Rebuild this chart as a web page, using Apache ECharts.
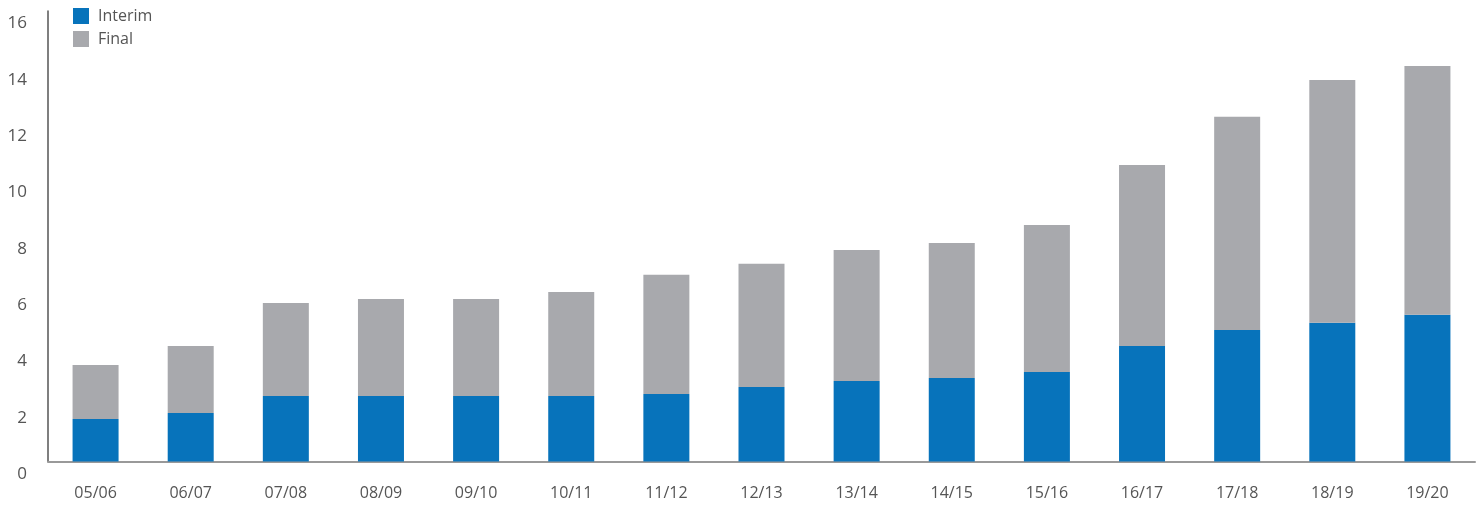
<!DOCTYPE html>
<html>
<head>
<meta charset="utf-8">
<script src="https://cdn.jsdelivr.net/npm/echarts@6/dist/echarts.min.js"></script>
<style>
html,body{margin:0;padding:0;background:#fff;}
#chart{width:1483px;height:506px;}
</style>
</head>
<body>
<div id="chart"></div>
<script>
var categories = ['05/06','06/07','07/08','08/09','09/10','10/11','11/12','12/13','13/14','14/15','15/16','16/17','17/18','18/19','19/20'];
var interim = [1.51,1.72,2.33,2.33,2.33,2.33,2.40,2.65,2.86,2.97,3.18,4.10,4.67,4.93,5.21];
var finalDiv = [1.92,2.38,3.30,3.44,3.44,3.69,4.23,4.37,4.65,4.79,5.22,6.43,7.57,8.62,8.84];
var yTicks = [0,2,4,6,8,10,12,14,16];

var font = '"Open Sans", "Noto Sans", sans-serif';
var chart = echarts.init(document.getElementById('chart'), null, {renderer:'canvas'});
chart.setOption({
  animation: false,
  backgroundColor: '#ffffff',
  textStyle: {fontFamily: font},
  legend: {
    orient: 'vertical',
    left: 68,
    top: 3,
    itemWidth: 16,
    itemHeight: 16,
    itemGap: 7,
    icon: 'rect',
    textStyle: {fontSize: 16, color: '#555555', fontFamily: font, padding: [0,0,0,4]},
    data: ['Interim','Final']
  },
  grid: {left: 48, right: 8, top: 11, bottom: 44.5, containLabel: false},
  xAxis: {
    type: 'category',
    data: categories,
    axisLine: {show: true, lineStyle: {color: '#999999', width: 2}},
    axisTick: {show: false},
    axisLabel: {fontSize: 16, color: '#555555', margin: 24, fontFamily: font}
  },
  yAxis: {
    type: 'value',
    min: yTicks[0],
    max: yTicks[yTicks.length-1],
    interval: 2,
    splitLine: {show: false},
    axisLine: {show: true, lineStyle: {color: '#555555', width: 1.5}},
    axisTick: {show: false},
    axisLabel: {fontSize: 17, color: '#555555', margin: 21, verticalAlign: 'top', padding: [4,0,0,0], fontFamily: font}
  },
  series: [
    {name: 'Interim', type: 'bar', stack: 'd', data: interim, barWidth: 46, itemStyle: {color: '#0773BB'}},
    {name: 'Final', type: 'bar', stack: 'd', data: finalDiv, barWidth: 46, itemStyle: {color: '#A8A9AD'}}
  ]
});
</script>
</body>
</html>
